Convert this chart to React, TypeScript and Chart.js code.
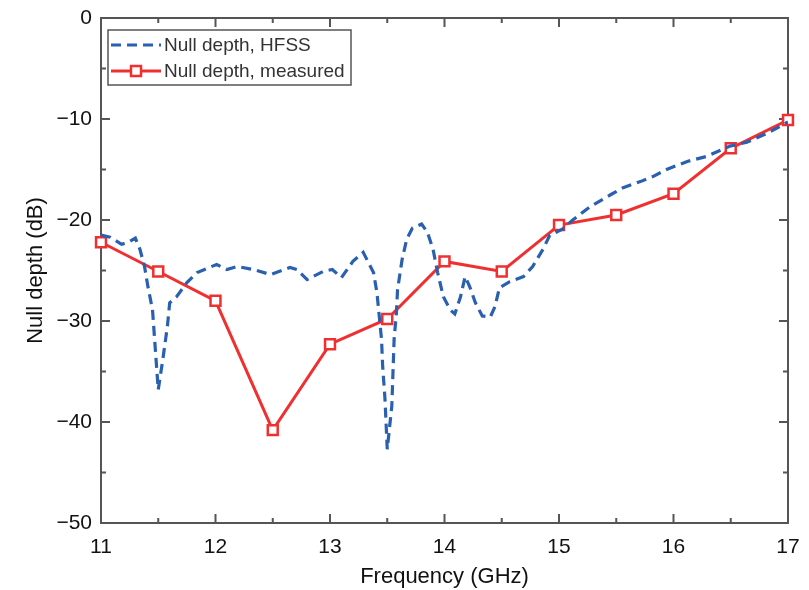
import React, { useEffect, useRef } from "react";
import { Chart, registerables } from "chart.js";

Chart.register(...registerables);

// Measured null depth (red squares)
const measuredFreq = [11, 11.5, 12, 12.5, 13, 13.5, 14, 14.5, 15, 15.5, 16, 16.5, 17];
const measuredDepth = [-22.2, -25.1, -28.0, -40.8, -32.3, -29.8, -24.1, -25.1, -20.5, -19.5, -17.4, -12.9, -10.1];

// HFSS simulated null depth (blue dashed)
const hfssFreq = [
  11.0, 11.08, 11.18, 11.24, 11.3, 11.34, 11.38, 11.41, 11.45, 11.47, 11.5, 11.54, 11.58, 11.6, 11.66,
  11.75, 11.84, 12.01, 12.1, 12.19, 12.33, 12.48, 12.65, 12.71, 12.8, 12.94, 13.02, 13.1, 13.2, 13.29,
  13.38, 13.41, 13.43, 13.45, 13.46, 13.48, 13.5, 13.54, 13.55, 13.56, 13.58, 13.59, 13.63, 13.67, 13.72,
  13.8, 13.85, 13.9, 13.94, 13.99, 14.05, 14.09, 14.14, 14.18, 14.22, 14.27, 14.33, 14.4, 14.44, 14.48,
  14.57, 14.69, 14.77, 14.86, 14.92, 15.03, 15.12, 15.27, 15.45, 15.56, 15.71, 15.82, 15.94, 16.12, 16.29,
  16.49, 16.64, 16.82, 17.0,
];
const hfssDepth = [
  -21.5, -21.7, -22.4, -22.2, -21.8, -22.9, -24.6, -26.6, -28.9, -32.1, -36.8, -33.8, -30.5, -28.2, -27.6,
  -26.2, -25.2, -24.4, -24.9, -24.6, -24.9, -25.4, -24.7, -24.9, -25.9, -25.1, -24.9, -25.7, -24.1, -23.2,
  -25.2, -27.2, -29.5, -31.8, -34.5, -37.7, -42.7, -38.4, -35.1, -31.8, -29.2, -26.9, -23.9, -21.9, -20.8,
  -20.4, -21.2, -22.9, -25.2, -27.6, -28.9, -29.3, -27.6, -25.6, -26.6, -28.2, -29.5, -29.6, -28.6, -26.7,
  -26.1, -25.6, -24.6, -22.9, -21.5, -20.9, -20.0, -18.7, -17.5, -16.8, -16.2, -15.7, -15.0, -14.2, -13.7,
  -12.7, -12.3, -11.4, -10.3,
];

const xTicks = [11, 12, 13, 14, 15, 16, 17];
const yTicks = [0, -10, -20, -30, -40, -50];

const legendLabels = ["Null depth, HFSS", "Null depth, measured"];
const xTitle = "Frequency (GHz)";
const yTitle = "Null depth (dB)";

const BLUE = "rgb(42, 96, 176)";
const RED = "rgb(240, 48, 48)";
const AXIS = "#555555";
const FONT = "'Liberation Sans', Arial, sans-serif";

const framePlugin = {
  id: "frame",
  beforeDatasetsDraw(chart: any) {
    const { ctx, chartArea: a } = chart;
    const xs = chart.scales.x;
    const ys = chart.scales.y;
    ctx.save();
    ctx.strokeStyle = AXIS;
    ctx.lineWidth = 2;
    ctx.strokeRect(a.left, a.top, a.right - a.left, a.bottom - a.top);
    ctx.beginPath();
    for (let v = 11; v <= 17.001; v += 0.5) {
      const major = Math.abs(v - Math.round(v)) < 1e-6;
      const len = major ? 9 : 5;
      const px = xs.getPixelForValue(v);
      ctx.moveTo(px, a.bottom);
      ctx.lineTo(px, a.bottom - len);
      ctx.moveTo(px, a.top);
      ctx.lineTo(px, a.top + len);
    }
    for (let v = -50; v <= 0.001; v += 5) {
      const major = Math.abs(v % 10) < 1e-6;
      const len = major ? 9 : 5;
      const py = ys.getPixelForValue(v);
      ctx.moveTo(a.left, py);
      ctx.lineTo(a.left + len, py);
      ctx.moveTo(a.right, py);
      ctx.lineTo(a.right - len, py);
    }
    ctx.stroke();
    ctx.restore();
  },
  afterDatasetsDraw(chart: any) {
    const { ctx } = chart;
    const bx = 108, by = 30, bw = 243, bh = 55;
    ctx.save();
    ctx.fillStyle = "#ffffff";
    ctx.fillRect(bx, by, bw, bh);
    ctx.strokeStyle = AXIS;
    ctx.lineWidth = 1.5;
    ctx.strokeRect(bx, by, bw, bh);
    const r1 = 45, r2 = 71;
    ctx.strokeStyle = BLUE;
    ctx.lineWidth = 3;
    ctx.setLineDash([10, 6]);
    ctx.beginPath();
    ctx.moveTo(111, r1);
    ctx.lineTo(161, r1);
    ctx.stroke();
    ctx.setLineDash([]);
    ctx.strokeStyle = RED;
    ctx.beginPath();
    ctx.moveTo(111, r2);
    ctx.lineTo(161, r2);
    ctx.stroke();
    ctx.fillStyle = "#ffffff";
    ctx.lineWidth = 2.5;
    ctx.fillRect(131, r2 - 5, 10, 10);
    ctx.strokeRect(131, r2 - 5, 10, 10);
    ctx.fillStyle = "#333333";
    ctx.font = `19px ${FONT}`;
    ctx.textBaseline = "middle";
    ctx.textAlign = "left";
    ctx.fillText(legendLabels[0], 164, r1 + 1);
    ctx.fillText(legendLabels[1], 164, r2 + 1);
    ctx.restore();
  },
};

export default function App() {
  const ref = useRef<HTMLCanvasElement>(null);

  useEffect(() => {
    if (!ref.current) return;
    const chart = new Chart(ref.current, {
      type: "line",
      data: {
        datasets: [
          {
            label: legendLabels[0],
            data: hfssFreq.map((f, i) => ({ x: f, y: hfssDepth[i] })),
            borderColor: BLUE,
            borderWidth: 3.2,
            borderDash: [10, 6],
            pointRadius: 0,
            tension: 0,
            fill: false,
          },
          {
            label: legendLabels[1],
            data: measuredFreq.map((f, i) => ({ x: f, y: measuredDepth[i] })),
            borderColor: RED,
            borderWidth: 3,
            pointStyle: "rect",
            pointRadius: 7,
            pointBorderWidth: 2.5,
            pointBackgroundColor: "#ffffff",
            pointBorderColor: RED,
            tension: 0,
            fill: false,
            clip: false as any,
          },
        ],
      },
      options: {
        responsive: false,
        animation: false,
        events: [],
        layout: { padding: { top: 18, right: 21, left: 0, bottom: 0 } },
        plugins: { legend: { display: false }, tooltip: { enabled: false } },
        scales: {
          x: {
            type: "linear",
            min: 11,
            max: 17,
            afterFit: (s: any) => {
              s.height = 67;
              s.paddingLeft = 0;
              s.paddingRight = 0;
            },
            afterBuildTicks: (s: any) => {
              s.ticks = xTicks.map((v) => ({ value: v }));
            },
            grid: { display: false, drawTicks: false },
            border: { display: false },
            ticks: {
              padding: 12,
              color: "#111111",
              font: { family: FONT, size: 21 },
              maxRotation: 0,
              callback: (v: any) => String(v),
            },
            title: {
              display: true,
              text: xTitle,
              color: "#111111",
              font: { family: FONT, size: 22 },
              padding: { top: 0, bottom: 0 },
            },
          },
          y: {
            type: "linear",
            min: -50,
            max: 0,
            afterFit: (s: any) => {
              s.width = 101;
              s.paddingTop = 0;
              s.paddingBottom = 0;
            },
            afterBuildTicks: (s: any) => {
              s.ticks = yTicks.map((v) => ({ value: v }));
            },
            grid: { display: false, drawTicks: false },
            border: { display: false },
            ticks: {
              padding: 9,
              color: "#111111",
              font: { family: FONT, size: 21 },
              callback: (v: any) => (v < 0 ? "\u2212" + Math.abs(v) : String(v)),
            },
            title: {
              display: true,
              text: yTitle,
              color: "#111111",
              font: { family: FONT, size: 22 },
              padding: { top: 23, bottom: 0 },
            },
          },
        },
      },
      plugins: [framePlugin],
    });
    return () => chart.destroy();
  }, []);

  return (
    <div style={{ position: "absolute", left: 0, top: 0, width: 809, height: 590, background: "#fff" }}>
      <canvas ref={ref} width={809} height={590} style={{ display: "block" }} />
    </div>
  );
}
